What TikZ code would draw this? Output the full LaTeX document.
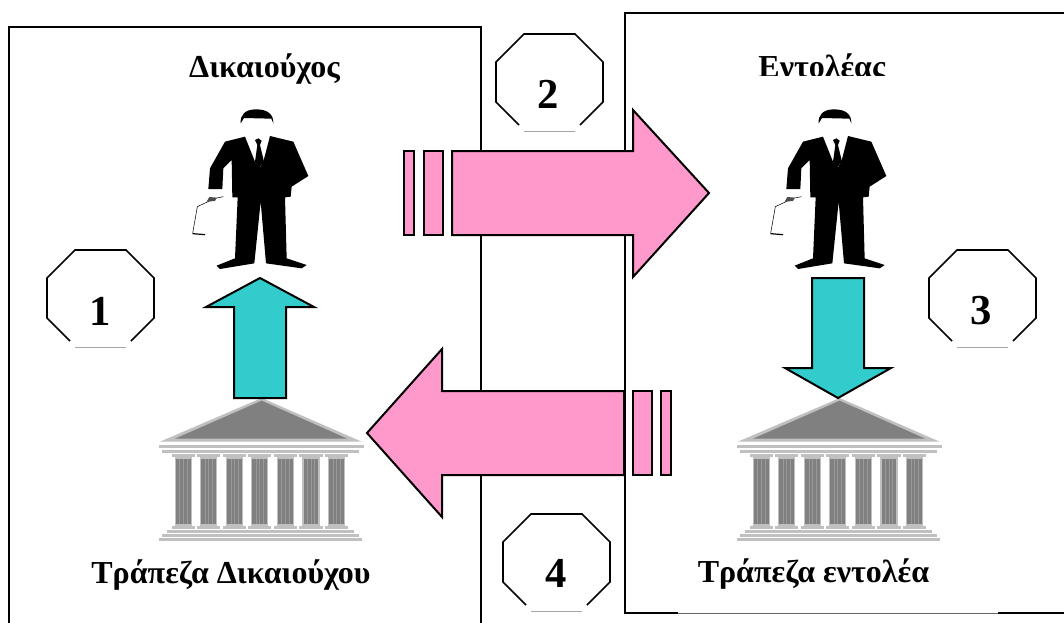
\documentclass[tikz,border=0pt]{standalone}
\usepackage{fontspec}
\setmainfont{Liberation Serif}
\tikzset{
  x=0.75pt,y=-0.75pt,
  panel/.style={draw=black,line width=1.5pt},
  blockpink/.style={draw=black,line width=1.5pt,fill=pinkf,line join=miter},
  blockteal/.style={draw=black,line width=1.5pt,fill=tealf,line join=miter},
  octo/.style={draw=black,line width=1.3pt,line join=miter},
  octogap/.style={draw=black!35,line width=0.6pt},
  title/.style={font=\bfseries\fontsize{24}{26}\selectfont,inner sep=0pt},
  bigtitle/.style={font=\bfseries\fontsize{24}{26}\selectfont,inner sep=0pt},
  numeral/.style={font=\bfseries\fontsize{32}{34}\selectfont,inner sep=0pt},
  zoomed/.style={x=0.25pt,y=-0.25pt},
}
\definecolor{pinkf}{HTML}{FF99CC}
\definecolor{tealf}{HTML}{33CCCC}
\definecolor{bgray}{HTML}{C0C0C0}
\definecolor{dgray}{HTML}{808080}
\newcommand{\manfig}[2]{%
\begin{scope}[shift={(#1,#2)},zoomed]
 \fill[black] (212,100) .. controls (210,75) and (225,58) .. (258,58) .. controls (292,58) and (311,72) .. (310,100) -- (304,86) -- (222,84) -- cycle;
 \fill[black] (225,140) -- (165,155) -- (120,235) -- (115,297) -- (157,297) -- (160,235) -- (185,210) -- (187,322) -- (203,322) -- (195,505) -- (140,527) -- (150,537) -- (253,520) -- (272,335) -- (288,520) -- (395,535) -- (410,525) -- (350,505) -- (345,322) -- (362,320) -- (365,290) -- (415,258) -- (370,155) -- (300,138) -- (280,215) -- (270,232) -- (255,215) -- cycle;
 \fill[black] (255,150) -- (265,145) -- (275,152) -- (270,165) -- (282,215) -- (268,232) -- (255,215) -- (262,165) -- cycle;
 \draw[black,line width=0.4pt] (160,320) -- (135,325) -- (82,350) -- (68,430);
 \draw[black,line width=0.9pt] (68,431) -- (105,434);
 \fill[black!70] (110,335) -- (118,321) -- (140,323) -- (135,333) -- cycle;
\end{scope}}
\newcommand{\bankfig}[2]{%
\begin{scope}[shift={(#1,#2)},zoomed]
 \fill[bgray] (60,155) -- (365,24) -- (665,155) -- cycle;
 \fill[dgray] (105,146) -- (365,32) -- (622,146) -- cycle;
 \fill[bgray] (56,164) rectangle (672,174);
 \fill[bgray] (65,180) rectangle (658,189);
 \foreach \cx in {130,206,284,359,436,513,590}{
  \fill[bgray] (\cx-35,192) rectangle (\cx+35,200);
  \fill[bgray] (\cx-26,202) rectangle (\cx+26,407);
  \fill[dgray] (\cx-22,206) rectangle (\cx+22,403);
  \foreach \s in {-11,0,11}{\fill[black!40] (\s+\cx-1.5,206) rectangle (\s+\cx+1.5,403);}
  \fill[bgray] (\cx-35,408) rectangle (\cx+35,416);
 }
 \fill[bgray] (81,420) rectangle (642,428);
 \fill[bgray] (65,431) rectangle (658,441);
 \fill[bgray] (56,444) rectangle (666,453);
\end{scope}}
\newcommand{\octofig}[2]{%
\begin{scope}[shift={(#1,#2)}]
 \draw[octo] (23,91) -- (0,68) -- (0,28) -- (28,0) -- (79,0) -- (107,28) -- (107,68) -- (84,91);
 \draw[octogap] (28,97) -- (79,97);
\end{scope}}
\begin{document}
\begin{tikzpicture}
\useasboundingbox (0,0) rectangle (1064,622);
\fill[white] (0,0) rectangle (1064,622);
\draw[panel] (9,640) -- (9,27) -- (481,27) -- (481,640);
\draw[panel] (678,613) -- (625,613) -- (625,13) -- (1070,13);
\draw[panel] (998,613) -- (1070,613);
\draw[draw=black!60,line width=0.5pt] (678,613) -- (998,613);
\manfig{170}{90}
\manfig{748}{90}
\bankfig{140}{390}
\bankfig{718}{390}
\path[blockpink] (452,151) -- (633,151) -- (633,110) -- (709,193) -- (633,277) -- (633,235) -- (452,235) -- cycle;
\path[blockpink] (424,151) rectangle (443,235);
\path[blockpink] (404,151) rectangle (414,235);
\path[blockpink] (624,391) -- (442,391) -- (442,349) -- (367,433) -- (442,517) -- (442,475) -- (624,475) -- cycle;
\path[blockpink] (633,391) rectangle (652,475);
\path[blockpink] (661,391) rectangle (671,475);
\path[blockteal] (234,398) -- (234,307) -- (206,307) -- (260,278) -- (314,307) -- (286,307) -- (286,398) -- cycle;
\path[blockteal] (812,278) -- (864,278) -- (864,368) -- (891,368) -- (838,398) -- (785,368) -- (812,368) -- cycle;
\octofig{496}{34}
\node[numeral] (n2) at (548,94) {2};
\octofig{47}{250}
\node[numeral] (n1) at (100,311) {1};
\octofig{929}{250}
\node[numeral] (n3) at (981,311) {3};
\octofig{503}{514}
\node[numeral] (n4) at (556,573) {4};
\node[title,anchor=base] (t1) at (264.5,77) {Δικαιούχος};
\node[title,anchor=base] (t2) at (822,77) {Εντολέας};
\fill[white] (750,76) rectangle (900,92);
\node[bigtitle,anchor=base] (t3) at (231,583) {Τράπεζα Δικαιούχου};
\node[bigtitle,anchor=base] (t4) at (813.5,582) {Τράπεζα εντολέα};
\end{tikzpicture}
\end{document}
